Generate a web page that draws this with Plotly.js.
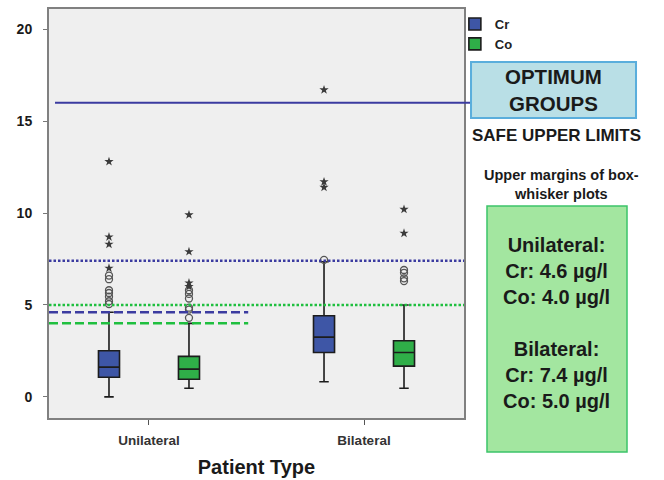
<!DOCTYPE html>
<html>
<head>
<meta charset="utf-8">
<script src="https://cdn.plot.ly/plotly-3.0.1.min.js"></script>
<style>
  html, body { margin: 0; padding: 0; background: #ffffff; }
  #chart { width: 664px; height: 480px; }
</style>
</head>
<body>
<div id="chart"></div>
<script>
// ---------- data ----------
const categories = ['Unilateral', 'Bilateral'];

// Cr (blue) box statistics per category
const crQ1 = [1.07, 2.41];
const crMedian = [1.62, 3.25];
const crQ3 = [2.51, 4.41];
const crLowerFence = [0.0, 0.82];
const crUpperFence = [4.6, 7.35];

// Co (green) box statistics per category
const coQ1 = [0.96, 1.67];
const coMedian = [1.51, 2.41];
const coQ3 = [2.2, 3.05];
const coLowerFence = [0.47, 0.47];
const coUpperFence = [4.0, 5.0];

// outliers (circles) and extreme values (stars)
const crUniCircles = [5.05, 5.2, 5.45, 5.65, 5.8, 6.4, 6.6];
const crUniStars = [7.0, 8.3, 8.7, 12.8];
const crBiCircles = [7.45];
const crBiStars = [11.4, 11.7, 16.7];
const coUniCircles = [4.3, 4.75, 4.85, 5.35, 5.6, 5.8];
const coUniStars = [6.0, 6.2, 7.9, 9.9];
const coBiCircles = [6.3, 6.45, 6.75, 6.9];
const coBiStars = [8.9, 10.2];

// safe upper limits (upper margins of the box-whisker plots), [unilateral, bilateral]
const crLimits = [4.6, 7.4];
const coLimits = [4.0, 5.0];
const optimumLevel = 16;

// ---------- styling ----------
const CR_FILL = '#3e56a6';
const CO_FILL = '#2fae48';
const BOX_LINE = '#1c1c1c';
const FONT = 'Liberation Sans, Arial, Helvetica, sans-serif';

function boxTrace(name, q1, med, q3, lf, uf, fill) {
  return {
    type: 'box', name: name, x: categories,
    q1: q1, median: med, q3: q3, lowerfence: lf, upperfence: uf,
    fillcolor: fill, line: { color: BOX_LINE, width: 1.6 },
    whiskerwidth: 0.45, boxpoints: false,
    offsetgroup: name, hoverinfo: 'skip'
  };
}

function pointTrace(group, uniVals, biVals, symbol, marker) {
  const xs = uniVals.map(() => categories[0]).concat(biVals.map(() => categories[1]));
  const ys = uniVals.concat(biVals);
  return {
    type: 'box', name: group + ' ' + symbol, x: xs, y: ys,
    boxpoints: 'all', jitter: 0, pointpos: 0,
    fillcolor: 'rgba(0,0,0,0)', line: { color: 'rgba(0,0,0,0)', width: 0 },
    marker: marker, offsetgroup: group, showlegend: false, hoverinfo: 'skip'
  };
}

const circleMarker = { symbol: 'circle-open', size: 7, color: '#555555', line: { width: 1.3, color: '#555555' } };
const starMarker = { symbol: 'star', size: 7, color: '#3a3a3a', line: { width: 0 } };

const traces = [
  boxTrace('Cr', crQ1, crMedian, crQ3, crLowerFence, crUpperFence, CR_FILL),
  boxTrace('Co', coQ1, coMedian, coQ3, coLowerFence, coUpperFence, CO_FILL),
  pointTrace('Cr', crUniCircles, crBiCircles, 'circle', circleMarker),
  pointTrace('Cr', crUniStars, crBiStars, 'star', starMarker),
  pointTrace('Co', coUniCircles, coBiCircles, 'circle', circleMarker),
  pointTrace('Co', coUniStars, coBiStars, 'star', starMarker)
];

const BLUE_LINE = '#3b3ba0';
const GREEN_LINE = '#1fbf3f';

const shapes = [
  { type: 'line', xref: 'paper', yref: 'y', x0: 0.0145, x1: 1.017, y0: optimumLevel, y1: optimumLevel,
    line: { color: BLUE_LINE, width: 2 } },
  { type: 'line', xref: 'paper', yref: 'y', x0: 0, x1: 1, y0: crLimits[1], y1: crLimits[1],
    line: { color: BLUE_LINE, width: 2.5, dash: '2.5px,2px' } },
  { type: 'line', xref: 'paper', yref: 'y', x0: 0, x1: 1, y0: coLimits[1], y1: coLimits[1],
    line: { color: GREEN_LINE, width: 2.5, dash: '2.5px,2px' } },
  { type: 'line', xref: 'paper', yref: 'y', x0: 0, x1: 0.48, y0: crLimits[0], y1: crLimits[0],
    line: { color: BLUE_LINE, width: 2.5, dash: '9px,4px' } },
  { type: 'line', xref: 'paper', yref: 'y', x0: 0, x1: 0.48, y0: coLimits[0], y1: coLimits[0],
    line: { color: GREEN_LINE, width: 2.5, dash: '9px,4px' } },
  { type: 'rect', xref: 'paper', yref: 'paper', x0: 1.0169, x1: 1.4145, y0: 0.7335, y1: 0.8704,
    fillcolor: '#b9dfe6', line: { color: '#5aaedc', width: 2 } },
  { type: 'rect', xref: 'paper', yref: 'paper', x0: 1.0554, x1: 1.3928, y0: -0.0831, y1: 0.5183,
    fillcolor: '#a3e6a0', line: { color: '#3cc46a', width: 1.5 } }
];

const limitText =
  categories[0] + ':<br>Cr: ' + crLimits[0].toFixed(1) + ' µg/l<br>Co: ' + coLimits[0].toFixed(1) + ' µg/l' +
  '<br><br>' +
  categories[1] + ':<br>Cr: ' + crLimits[1].toFixed(1) + ' µg/l<br>Co: ' + coLimits[1].toFixed(1) + ' µg/l';

const annotations = [
  { xref: 'paper', yref: 'paper', x: 1.2157, y: 0.802, xanchor: 'center', yanchor: 'middle',
    text: '<b>OPTIMUM<br>GROUPS</b>', showarrow: false, font: { family: FONT, size: 20.5, color: '#1a1a1a' } },
  { xref: 'paper', yref: 'paper', x: 1.2217, y: 0.6895, xanchor: 'center', yanchor: 'middle',
    text: '<b>SAFE UPPER LIMITS</b>', showarrow: false, font: { family: FONT, size: 17, color: '#1a1a1a' } },
  { xref: 'paper', yref: 'paper', x: 1.236, y: 0.571, xanchor: 'center', yanchor: 'middle',
    text: '<b>Upper margins of box-<br>whisker plots</b>', showarrow: false, font: { family: FONT, size: 14.5, color: '#1a1a1a' } },
  { xref: 'paper', yref: 'paper', x: 1.224, y: 0.2323, xanchor: 'center', yanchor: 'middle',
    text: '<b>' + limitText + '</b>', showarrow: false, font: { family: FONT, size: 20, color: '#1a1a1a' } }
];

const layout = {
  width: 664, height: 480,
  margin: { l: 49, r: 200, t: 9, b: 62 },
  paper_bgcolor: '#ffffff',
  plot_bgcolor: '#efefef',
  font: { family: FONT, color: '#222222' },
  boxmode: 'group',
  boxgap: 0.256,
  boxgroupgap: 0.737,
  showlegend: true,
  legend: { x: 0.978, xanchor: 'left', y: 1.0, yanchor: 'top', bgcolor: 'rgba(0,0,0,0)',
    font: { family: FONT, size: 13, color: '#222222', weight: 'bold' }, tracegroupgap: 0 },
  xaxis: {
    type: 'category', range: [-0.465, 1.465],
    showline: true, mirror: true, linecolor: '#808080', linewidth: 2,
    ticks: 'outside', ticklen: 5, tickcolor: '#555555', tickwidth: 1,
    ticklabelstandoff: 4,
    tickfont: { family: FONT, size: 13.5, color: '#333333', weight: 'bold' },
    showgrid: false, zeroline: false,
    title: { text: '<b>Patient Type</b>', standoff: 13, font: { family: FONT, size: 20, color: '#1a1a1a' } }
  },
  yaxis: {
    range: [-1.15, 21.1],
    tickvals: [0, 5, 10, 15, 20],
    showline: true, mirror: true, linecolor: '#808080', linewidth: 2,
    ticks: 'outside', ticklen: 4, tickcolor: '#777777', tickwidth: 1,
    ticklabelstandoff: 8,
    tickfont: { family: FONT, size: 14, color: '#1a1a1a', weight: 'bold' },
    showgrid: false, zeroline: false
  },
  shapes: shapes,
  annotations: annotations
};

Plotly.newPlot('chart', traces, layout, { displayModeBar: false, staticPlot: true });
</script>
</body>
</html>
